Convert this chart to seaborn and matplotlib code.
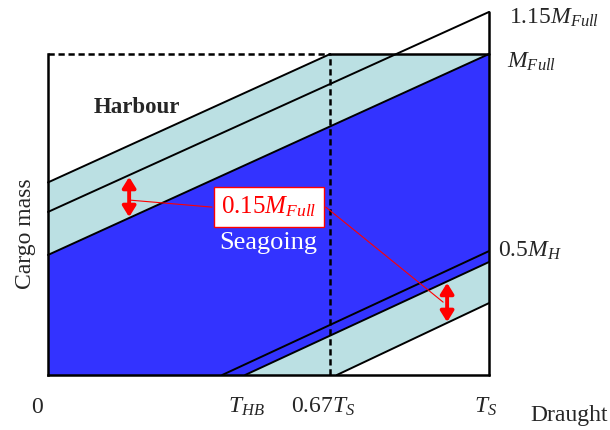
import numpy as np
import pandas as pd
import matplotlib
matplotlib.use("Agg")
import matplotlib.pyplot as plt
import seaborn as sns

# ---- data (draught as fraction of T_S, cargo mass as fraction of M_Full) ----
line_names = ["A", "B", "C", "D", "E", "F"]
line_x0 = [0.0, 0.0, 0.0, 0.395, 0.447, 0.655]
line_y0 = [0.600, 0.508, 0.374, 0.0, 0.0, 0.0]
line_x1 = [0.640, 1.0, 1.0, 1.0, 1.0, 1.0]
line_y1 = [1.0, 1.131, 1.0, 0.386, 0.352, 0.224]

upper_band_x = [0.0, 0.0, 0.640, 1.0]
upper_band_y = [0.374, 0.600, 1.0, 1.0]
sea_x = [0.0, 0.447, 1.0, 1.0, 0.0]
sea_y = [0.0, 0.0, 0.352, 1.0, 0.374]
lower_band_x = [0.447, 0.655, 1.0, 1.0]
lower_band_y = [0.0, 0.0, 0.224, 0.352]

tick_pos = [-0.025, 0.450, 0.623, 0.992]
tick_labels = ["0", r"$T_{HB}$", r"$0.67T_S$", r"$T_S$"]
t067 = 0.640
right_labels = [r"$1.15M_{Full}$", r"$M_{Full}$", r"$0.5M_H$"]
right_x = [1.045, 1.04, 1.02]
right_y = [1.113, 0.975, 0.386]

arrow_x = [0.184, 0.905]
arrow_ytop = [0.617, 0.287]
arrow_ybot = [0.492, 0.165]

blue = "#3333FF"
light = "#BBE0E3"

sns.set_theme(style="white")
plt.rcParams["font.family"] = ["Liberation Serif", "DejaVu Serif"]
plt.rcParams["mathtext.fontset"] = "custom"
plt.rcParams["mathtext.rm"] = "Liberation Serif"
plt.rcParams["mathtext.it"] = "Liberation Serif:italic"
plt.rcParams["mathtext.bf"] = "Liberation Serif:bold"

fig = plt.figure(figsize=(6.1, 4.3), dpi=100)
ax = fig.add_axes([48 / 610, 55 / 430, 441 / 610, 321 / 430])
ax.set_xlim(0, 1)
ax.set_ylim(0, 1)
ax.axis("off")

ax.fill(upper_band_x, upper_band_y, color=light, lw=0, zorder=1)
ax.fill(sea_x, sea_y, color=blue, lw=0, zorder=1)
ax.fill(lower_band_x, lower_band_y, color=light, lw=0, zorder=1)

rows = []
for n, x0, y0, x1, y1 in zip(line_names, line_x0, line_y0, line_x1, line_y1):
    rows.append({"line": n, "x": x0, "y": y0})
    rows.append({"line": n, "x": x1, "y": y1})
df = pd.DataFrame(rows)
sns.lineplot(data=df, x="x", y="y", units="line", estimator=None, color="black",
             lw=1.4, ax=ax, zorder=3, legend=False, sort=False)
for l in ax.lines:
    l.set_clip_on(False)

fw = 1.8
# frame
ax.plot([0, 0], [0, 1], color="black", lw=fw, zorder=4, clip_on=False, solid_capstyle="projecting")
ax.plot([0, 1], [0, 0], color="black", lw=fw, zorder=4, clip_on=False, solid_capstyle="projecting")
ax.plot([1, 1], [0, line_y1[1]], color="black", lw=fw, zorder=4, clip_on=False)
ax.plot([t067, 1], [1, 1], color="black", lw=fw, zorder=4, clip_on=False)
ax.plot([0, t067], [1, 1], color="black", lw=fw, ls=(0, (2.5, 1.5)), zorder=4, clip_on=False)
ax.plot([t067, t067], [0, 1], color="black", lw=fw, ls=(0, (2.5, 1.5)), zorder=4, clip_on=False)

# arrows
for x, yt, yb in zip(arrow_x, arrow_ytop, arrow_ybot):
    ax.annotate("", xy=(x, yt), xytext=(x, yb),
                arrowprops=dict(arrowstyle="<|-|>,head_length=0.45,head_width=0.28",
                                color="red", lw=2.8, shrinkA=0, shrinkB=0,
                                mutation_scale=14), zorder=6)

# leader lines
ax.plot([0.184, 0.372], [0.545, 0.523], color="red", lw=0.8, zorder=5)
ax.plot([0.630, 0.896], [0.523, 0.227], color="red", lw=0.8, zorder=5, clip_on=False)

ax.text(0.501, 0.524, r"$0.15M_{Full}$", color="red", fontsize=18, ha="center", va="center",
        zorder=7, bbox=dict(boxstyle="square,pad=0.3", fc="white", ec="red", lw=1))

ax.text(0.202, 0.832, "Harbour", fontsize=16.5, fontweight="bold", ha="center", va="center", zorder=7)
ax.text(0.499, 0.411, "Seagoing", fontsize=19, color="white", ha="center", va="center", zorder=7)

for p, t in zip(tick_pos, tick_labels):
    ax.text(p, -0.10, t, fontsize=17, ha="center", va="center", clip_on=False)
for t, x, y in zip(right_labels, right_x, right_y):
    ax.text(x, y, t, fontsize=17, ha="left", va="center", clip_on=False)

ax.text(-0.052, 0.439, "Cargo mass", fontsize=17, rotation=90, ha="center", va="center", clip_on=False)
ax.text(1.181, -0.125, "Draught", fontsize=17, ha="center", va="center", clip_on=False)

fig.savefig("out.png", dpi=100)
